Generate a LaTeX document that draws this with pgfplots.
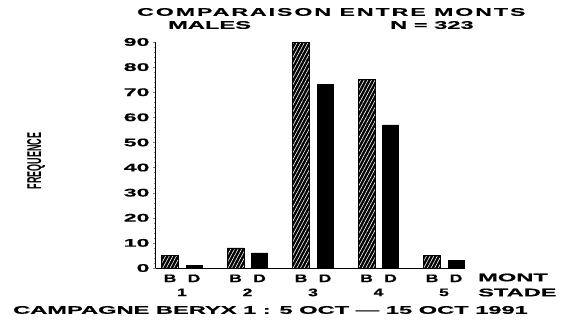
\documentclass[border=0pt]{standalone}
\usepackage{fontspec}
\usepackage{pgfplots}
\usepackage{pgfplotstable}
\pgfplotsset{compat=1.18}
\usetikzlibrary{patterns.meta}

% very wide heavy lettering for the annotations, condensed for the axis label
\newfontfamily\widefont{Liberation Sans}[FakeStretch=2.1,FakeBold=0.6]
\newfontfamily\mountfont{Liberation Sans}[FakeStretch=1.6,FakeBold=0.6]
\newfontfamily\titlefont{Liberation Sans}[FakeStretch=2.1,LetterSpace=18,FakeBold=0.6]
\newfontfamily\capfont{Liberation Sans}[FakeStretch=2.15,FakeBold=0.6]
\newfontfamily\narrowfont{Liberation Sans}[FakeStretch=0.45]
\newcommand\lab{\widefont\bfseries\fontsize{11}{12}\selectfont}
\newcommand\captxt{\capfont\bfseries\fontsize{11}{12}\selectfont}

% counts per maturity stage: B and D mounts
\pgfplotstableread{
stade b d
1 5 1
2 8 6
3 90 73
4 75 57
5 5 3
}\counts

\begin{document}
\begin{tikzpicture}[x=1pt,y=1pt]
\useasboundingbox (0,0) rectangle (566,322);
\begin{axis}[
  at={(156pt,54pt)}, anchor=south west,
  scale only axis, width=309pt, height=226pt,
  xmin=0.603, xmax=5.32, ymin=0, ymax=90,
  axis lines=left,
  axis line style={-, line width=1pt},
  ytick={0,10,...,90},
  minor y tick num=4,
  tick align=outside,
  major tick length=3pt, minor tick length=1.5pt,
  xtick={0.817,1.183,1.817,2.183,2.817,3.183,3.817,4.183,4.817,5.183},
  xticklabels={B,D,B,D,B,D,B,D,B,D},
  xtick style={draw=none},
  xticklabel style={font=\mountfont\bfseries\fontsize{11}{12}\selectfont},
  extra x ticks={1,2,3,4,5},
  extra x tick labels={1,2,3,4,5},
  extra x tick style={tick label style={yshift=-17pt}, major tick length=0pt},
  /pgf/number format/assume math mode=true,
  yticklabel style={font=\lab},
  ylabel={FREQUENCE},
  ylabel style={at={(axis description cs:-0.388,0.473)}, rotate=0,
    anchor=center, font=\narrowfont\bfseries\fontsize{20}{20}\selectfont},
]
\addplot[ybar, bar width=17pt, bar shift=-12pt, draw=black, fill=black,
  postaction={pattern={Lines[angle=62,distance=3.2pt,line width=0.6pt]},
  pattern color=white}] table[x=stade,y=b]{\counts};
\addplot[ybar, bar width=16pt, bar shift=12pt, draw=black, fill=black]
  table[x=stade,y=d]{\counts};
\end{axis}
\begin{scope}[every node/.style={anchor=west, inner sep=0pt, font=\captxt}]
\node[font=\titlefont\bfseries\fontsize{11}{12}\selectfont]
  at (137,310) {COMPARAISON ENTRE MONTS};
\node at (168,297) {MALES};
\node at (390,297) {N = 323};
\node at (478,44.5) {MONT};
\node at (478,29.5) {STADE};
\node at (13,12) {CAMPAGNE BERYX 1 : 5 OCT — 15 OCT 1991};
\end{scope}
\end{tikzpicture}
\end{document}
